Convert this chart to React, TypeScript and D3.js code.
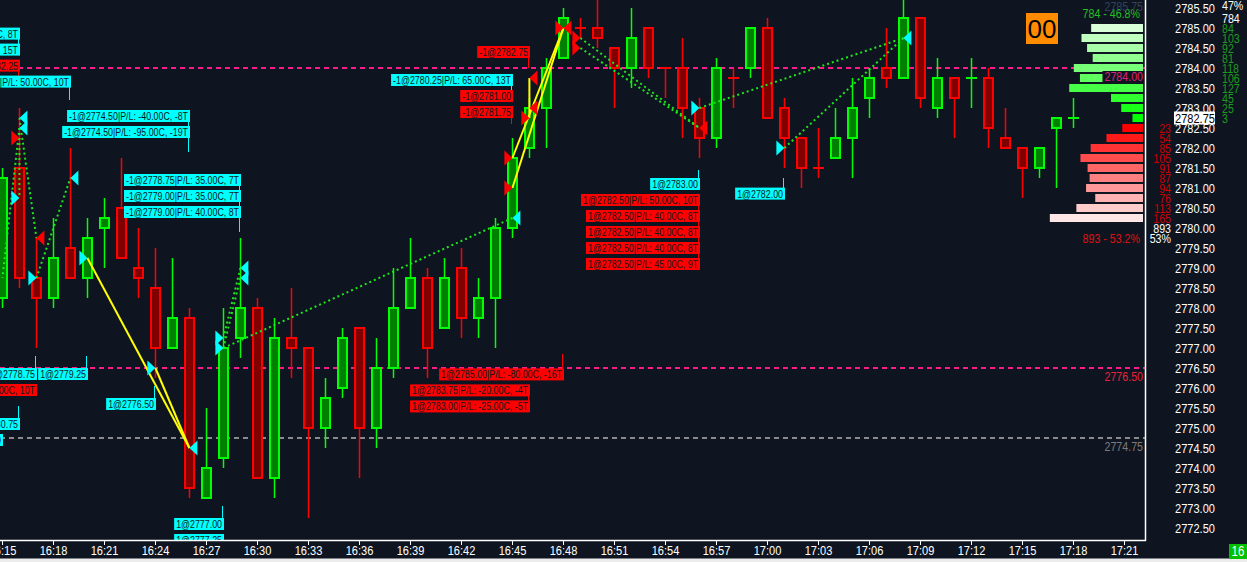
import { useEffect, useRef } from 'react';
import * as d3 from 'd3';

const WIDTH = 1247;
const HEIGHT = 562;
const PLOT_RIGHT = 1145;
const PLOT_BOTTOM = 540;
const FONT = "'Liberation Sans', Arial, sans-serif";
const SX = 0.82; // horizontal squeeze to mimic the narrow platform font
const BG = '#0f1520';

const parseTime = d3.timeParse('%H:%M');
const t = (s: string) => parseTime(s) as Date;

// one-minute bars 16:15 .. 17:18
const barTimes = d3.timeMinute.range(t('16:15'), t('17:19'));
const opens = [
  2778.25, 2781.5, 2778.75, 2778.25, 2779.5, 2778.75, 2780.0, 2780.5, 2779.0, 2778.5,
  2777.0, 2777.75, 2773.25, 2774.25, 2777.25, 2778.0, 2773.75, 2777.25, 2777.0, 2775.0,
  2776.0, 2777.5, 2775.0, 2776.5, 2778.0, 2778.75, 2777.5, 2779.0, 2777.75, 2778.25,
  2780.0, 2782.0, 2783.0, 2784.25, 2785.0, 2785.0, 2784.5, 2784.0, 2785.0, 2784.0,
  2784.0, 2783.0, 2782.25, 2783.75, 2784.0, 2785.0, 2783.0, 2782.25, 2781.5, 2781.75,
  2782.25, 2783.25, 2784.0, 2783.75, 2785.25, 2783.0, 2783.75, 2783.75, 2783.75, 2782.25,
  2782.0, 2781.5, 2782.5, 2782.75,
];
const highs = [
  2781.5, 2783.0, 2779.75, 2780.25, 2782.0, 2780.25, 2780.75, 2781.75, 2780.0, 2779.5,
  2779.25, 2778.0, 2775.5, 2778.0, 2779.75, 2778.25, 2777.75, 2778.5, 2777.0, 2776.25,
  2777.5, 2777.5, 2777.25, 2779.0, 2779.75, 2779.0, 2779.25, 2779.5, 2778.75, 2780.25,
  2782.25, 2783.25, 2784.25, 2785.5, 2785.25, 2785.75, 2784.5, 2785.5, 2785.0, 2784.0,
  2784.75, 2783.25, 2784.25, 2784.0, 2785.0, 2785.25, 2783.25, 2782.25, 2782.5, 2783.0,
  2783.75, 2784.0, 2785.0, 2785.75, 2785.25, 2784.25, 2783.75, 2784.25, 2784.0, 2783.0,
  2782.0, 2782.0, 2782.75, 2783.25,
];
const lows = [
  2778.0, 2778.5, 2777.0, 2778.0, 2778.75, 2778.25, 2779.0, 2779.25, 2778.25, 2776.25,
  2777.0, 2773.25, 2773.25, 2774.0, 2776.75, 2773.75, 2773.25, 2776.25, 2772.75, 2774.5,
  2775.75, 2773.75, 2774.5, 2776.25, 2778.0, 2776.25, 2777.5, 2777.25, 2777.25, 2777.0,
  2779.75, 2781.75, 2782.0, 2784.25, 2784.75, 2784.5, 2783.0, 2783.5, 2783.75, 2783.25,
  2782.25, 2781.75, 2782.0, 2783.0, 2783.75, 2782.75, 2781.5, 2781.0, 2781.25, 2781.75,
  2781.25, 2782.75, 2783.5, 2783.75, 2783.0, 2782.75, 2782.25, 2783.0, 2782.0, 2782.0,
  2780.75, 2781.25, 2781.0, 2782.5,
];
const closes = [
  2781.25, 2778.75, 2778.25, 2779.25, 2778.75, 2779.75, 2780.25, 2779.25, 2778.75, 2777.0,
  2777.75, 2773.5, 2774.0, 2777.0, 2778.0, 2773.75, 2777.25, 2777.0, 2775.0, 2775.75,
  2777.25, 2775.0, 2776.5, 2778.0, 2778.75, 2777.0, 2778.75, 2777.75, 2778.25, 2780.0,
  2781.75, 2783.0, 2784.0, 2785.25, 2785.0, 2784.75, 2784.0, 2784.75, 2784.0, 2784.0,
  2783.0, 2782.25, 2784.0, 2783.75, 2785.0, 2782.75, 2782.25, 2781.5, 2781.5, 2782.25,
  2783.0, 2783.75, 2783.75, 2785.25, 2783.25, 2783.75, 2783.25, 2783.75, 2782.5, 2782.0,
  2781.5, 2782.0, 2782.75, 2782.75,
];
const dojiUp = ['17:12', '17:18'];

const lastPrice = 2782.75;
const priceTicks = d3.range(2772.5, 2785.51, 0.5);

// volume profile (right side)
const profilePrices = d3.range(2785.0, 2780.24, -0.25);
const profileVolumes = [84, 103, 92, 81, 118, 106, 127, 45, 25, 3, 23, 54, 85, 105, 91, 87, 94, 76, 113, 165];

// fill markers: kind c = cyan, r = red; dir = where the tip points
const markers = [
  { time: '16:16', price: 2782.75, kind: 'c', dir: 'left' },
  { time: '16:16', price: 2782.5, kind: 'c', dir: 'left' },
  { time: '16:16', price: 2782.25, kind: 'r', dir: 'right' },
  { time: '16:16', price: 2780.75, kind: 'c', dir: 'right' },
  { time: '16:17', price: 2779.75, kind: 'r', dir: 'left' },
  { time: '16:17', price: 2778.75, kind: 'c', dir: 'right' },
  { time: '16:19', price: 2781.25, kind: 'c', dir: 'left' },
  { time: '16:20', price: 2779.25, kind: 'c', dir: 'right' },
  { time: '16:24', price: 2776.5, kind: 'c', dir: 'right' },
  { time: '16:26', price: 2774.5, kind: 'c', dir: 'left' },
  { time: '16:28', price: 2777.25, kind: 'c', dir: 'right' },
  { time: '16:28', price: 2777.0, kind: 'c', dir: 'right' },
  { time: '16:29', price: 2779.0, kind: 'c', dir: 'left' },
  { time: '16:29', price: 2778.75, kind: 'c', dir: 'left' },
  { time: '16:45', price: 2780.25, kind: 'c', dir: 'left' },
  { time: '16:45', price: 2781.75, kind: 'r', dir: 'right' },
  { time: '16:45', price: 2781.0, kind: 'r', dir: 'right' },
  { time: '16:46', price: 2782.75, kind: 'r', dir: 'right' },
  { time: '16:46', price: 2783.75, kind: 'r', dir: 'left' },
  { time: '16:46', price: 2783.0, kind: 'r', dir: 'left' },
  { time: '16:48', price: 2785.0, kind: 'r', dir: 'right' },
  { time: '16:48', price: 2785.0, kind: 'r', dir: 'left' },
  { time: '16:49', price: 2784.75, kind: 'r', dir: 'right' },
  { time: '16:49', price: 2784.5, kind: 'r', dir: 'right' },
  { time: '16:56', price: 2783.0, kind: 'c', dir: 'right' },
  { time: '16:56', price: 2782.5, kind: 'r', dir: 'left' },
  { time: '17:01', price: 2782.0, kind: 'c', dir: 'right' },
  { time: '17:08', price: 2784.75, kind: 'c', dir: 'left' },
];

// trade links: [time0, price0, time1, price1]
const solidLinks: [string, number, string, number][] = [
  ['16:20', 2779.25, '16:26', 2774.5],
  ['16:24', 2776.5, '16:26', 2774.5],
  ['16:45', 2781.75, '16:48', 2785.0],
  ['16:45', 2781.0, '16:48', 2785.0],
  ['16:46', 2783.75, '16:46', 2782.75],
];
const dottedLinks: [string, number, string, number][] = [
  ['16:16', 2782.75, '16:17', 2779.75],
  ['16:16', 2782.5, '16:15', 2778.75],
  ['16:16', 2782.5, '16:16', 2780.75],
  ['16:17', 2778.75, '16:19', 2781.25],
  ['16:28', 2777.25, '16:29', 2779.0],
  ['16:28', 2777.0, '16:29', 2778.75],
  ['16:28', 2777.0, '16:45', 2780.25],
  ['16:49', 2784.75, '16:56', 2782.5],
  ['16:49', 2784.5, '16:56', 2782.5],
  ['16:56', 2783.0, '17:08', 2784.75],
  ['17:01', 2782.0, '17:08', 2784.75],
];

// order / fill labels: right edge at the bar time, centred on price
const tags = [
  { text: '-1@2781.75|P/L: 40.00C, 8T', kind: 'c', time: '16:16', price: 2784.86 },
  { text: '-1@2781.50|P/L: 70.00C, 15T', kind: 'c', time: '16:16', price: 2784.46 },
  { text: '-1@2782.25', kind: 'r', time: '16:16', price: 2784.06 },
  { text: '-1@2782.25|P/L: 50.00C, 10T', kind: 'c', time: '16:19', price: 2783.66 },
  { text: '-1@2774.50|P/L: -40.00C, -8T', kind: 'c', time: '16:26', price: 2782.8 },
  { text: '-1@2774.50|P/L: -95.00C, -19T', kind: 'c', time: '16:26', price: 2782.4 },
  { text: '-1@2778.75|P/L: 35.00C, 7T', kind: 'c', time: '16:29', price: 2781.2 },
  { text: '-1@2779.00|P/L: 35.00C, 7T', kind: 'c', time: '16:29', price: 2780.8 },
  { text: '-1@2779.00|P/L: 40.00C, 8T', kind: 'c', time: '16:29', price: 2780.4 },
  { text: '1@2778.75', kind: 'c', time: '16:17', price: 2776.35 },
  { text: '1@2779.25', kind: 'c', time: '16:20', price: 2776.35 },
  { text: '1@2780.75|P/L: 50.00C, 10T', kind: 'r', time: '16:17', price: 2775.95 },
  { text: '1@2776.50', kind: 'c', time: '16:24', price: 2775.6 },
  { text: '1@2780.75', kind: 'c', time: '16:16', price: 2775.1 },
  { text: '1@2781.00', kind: 'c', time: '16:15', price: 2774.7 },
  { text: '1@2777.00', kind: 'c', time: '16:28', price: 2772.6 },
  { text: '1@2777.25', kind: 'c', time: '16:28', price: 2772.2 },
  { text: '-1@2782.75', kind: 'r', time: '16:46', price: 2784.4 },
  { text: '-1@2780.25|P/L: 65.00C, 13T', kind: 'c', time: '16:45', price: 2783.7 },
  { text: '-1@2781.00', kind: 'r', time: '16:45', price: 2783.3 },
  { text: '-1@2781.75', kind: 'r', time: '16:45', price: 2782.9 },
  { text: '1@2783.00', kind: 'c', time: '16:56', price: 2781.1 },
  { text: '1@2782.50|P/L: 50.00C, 10T', kind: 'r', time: '16:56', price: 2780.7 },
  { text: '1@2782.50|P/L: 40.00C, 8T', kind: 'r', time: '16:56', price: 2780.3 },
  { text: '1@2782.50|P/L: 40.00C, 8T', kind: 'r', time: '16:56', price: 2779.9 },
  { text: '1@2782.50|P/L: 40.00C, 8T', kind: 'r', time: '16:56', price: 2779.5 },
  { text: '1@2782.50|P/L: 45.00C, 9T', kind: 'r', time: '16:56', price: 2779.1 },
  { text: '1@2785.00|P/L: -80.00C, -16T', kind: 'r', time: '16:48', price: 2776.34 },
  { text: '1@2783.75|P/L: -20.00C, -4T', kind: 'r', time: '16:46', price: 2775.94 },
  { text: '1@2783.00|P/L: -25.00C, -5T', kind: 'r', time: '16:46', price: 2775.54 },
  { text: '1@2782.00', kind: 'c', time: '17:01', price: 2780.86 },
];

// label leader lines: [kind, time, price0, price1]
const leaders: [string, string, number, number][] = [
  ['c', '16:16', 2784.86, 2784.46],
  ['r', '16:16', 2784.06, 2783.6],
  ['c', '16:19', 2783.66, 2783.2],
  ['c', '16:26', 2782.8, 2781.9],
  ['c', '16:29', 2781.2, 2779.9],
  ['c', '16:17', 2776.35, 2776.8],
  ['c', '16:20', 2776.35, 2776.8],
  ['c', '16:24', 2775.6, 2776.05],
  ['c', '16:16', 2775.1, 2775.55],
  ['c', '16:28', 2772.6, 2773.05],
  ['r', '16:46', 2784.4, 2784.0],
  ['c', '16:45', 2783.7, 2783.4],
  ['r', '16:45', 2782.9, 2782.6],
  ['c', '16:56', 2781.1, 2781.45],
  ['r', '16:56', 2780.7, 2779.1],
  ['r', '16:48', 2776.34, 2776.85],
  ['r', '16:46', 2775.94, 2775.54],
  ['c', '17:01', 2780.86, 2781.25],
];

// horizontal price lines
const levelLines = [
  { price: 2784.0, color: '#ff1a8c', text: '#e0207a' },
  { price: 2776.5, color: '#ff1a8c', text: '#e8203c' },
  { price: 2774.75, color: '#8a8a8a', text: '#7c7c7c' },
  { price: 2785.75, color: 'none', text: '#33425e' },
];

const KIND_COLOR: Record<string, string> = { c: '#00ffff', r: '#ff0000' };

type Sel = d3.Selection<any, unknown, null, undefined>;

// squeezed text; returns [selection, rendered width]
function addText(parent: Sel, x: number, y: number, str: string | number, size: number, fill: string, anchor = 'start'): [Sel, number] {
  const node = parent.append('text')
    .attr('transform', `translate(${x},${y}) scale(${SX},1)`)
    .attr('text-anchor', anchor)
    .attr('font-family', FONT).attr('font-size', size).attr('fill', fill)
    .text(String(str));
  const w = (node.node() as SVGTextElement).getComputedTextLength() * SX;
  return [node, w];
}

export default function App() {
  const ref = useRef<SVGSVGElement>(null);

  useEffect(() => {
    const svg = d3.select(ref.current) as unknown as Sel;
    svg.selectAll('*').remove();

    const x = d3.scaleTime().domain([t('16:15'), t('17:21')]).range([2.4, 1124.4]);
    const y = d3.scaleLinear().domain([2772.5, 2785.5]).range([528, 8]);
    const xs = (s: string) => x(t(s));

    svg.append('rect').attr('width', WIDTH).attr('height', HEIGHT).attr('fill', BG);
    svg.append('defs').append('clipPath').attr('id', 'plot')
      .append('rect').attr('width', PLOT_RIGHT).attr('height', PLOT_BOTTOM);

    const plot = svg.append('g').attr('clip-path', 'url(#plot)');

    // price lines
    levelLines.forEach((l) => {
      if (l.color === 'none') return;
      plot.append('line')
        .attr('x1', 0).attr('x2', PLOT_RIGHT)
        .attr('y1', y(l.price)).attr('y2', y(l.price))
        .attr('stroke', l.color).attr('stroke-width', 2)
        .attr('stroke-dasharray', '5,4');
    });

    // candles
    const bw = 9;
    barTimes.forEach((d, i) => {
      const o = opens[i], c = closes[i], h = highs[i], l = lows[i];
      const label = d3.timeFormat('%H:%M')(d);
      const up = c > o || (c === o && dojiUp.includes(label));
      const line = up ? '#00ff00' : '#ff0000';
      const fill = up ? '#008000' : '#800000';
      const cx = Math.round(x(d)) + 0.5;
      plot.append('line').attr('x1', cx).attr('x2', cx)
        .attr('y1', y(h)).attr('y2', y(l)).attr('stroke', line).attr('stroke-width', 1.5);
      if (c === o) {
        plot.append('line').attr('x1', cx - 5.5).attr('x2', cx + 5.5)
          .attr('y1', y(c)).attr('y2', y(c)).attr('stroke', line).attr('stroke-width', 2);
      } else {
        plot.append('rect')
          .attr('x', cx - bw / 2).attr('width', bw)
          .attr('y', y(Math.max(o, c))).attr('height', Math.abs(y(o) - y(c)))
          .attr('fill', fill).attr('stroke', line).attr('stroke-width', 2);
      }
    });

    // trade links
    solidLinks.forEach(([t0, p0, t1, p1]) => {
      plot.append('line').attr('x1', xs(t0)).attr('y1', y(p0)).attr('x2', xs(t1)).attr('y2', y(p1))
        .attr('stroke', '#ffff00').attr('stroke-width', 2);
    });
    dottedLinks.forEach(([t0, p0, t1, p1]) => {
      plot.append('line').attr('x1', xs(t0)).attr('y1', y(p0)).attr('x2', xs(t1)).attr('y2', y(p1))
        .attr('stroke', '#1ee61e').attr('stroke-width', 2).attr('stroke-dasharray', '2,3');
    });

    // markers
    markers.forEach((m) => {
      const mx = xs(m.time), my = y(m.price);
      const s = m.dir === 'left' ? 1 : -1;
      const pts = [[mx, my], [mx + 8 * s, my - 7.5], [mx + 8 * s, my + 7.5]];
      plot.append('polygon').attr('points', pts.map((p) => p.join(',')).join(' '))
        .attr('fill', KIND_COLOR[m.kind]);
    });

    // leader lines
    leaders.forEach(([k, tm, p0, p1]) => {
      const lx = Math.round(xs(tm)) - 0.5;
      plot.append('line').attr('x1', lx).attr('x2', lx).attr('y1', y(p0)).attr('y2', y(p1))
        .attr('stroke', KIND_COLOR[k]).attr('stroke-width', 1);
    });

    // labels
    tags.forEach((tg) => {
      const right = xs(tg.time) + 0.6;
      const cy = y(tg.price);
      const g = plot.append('g');
      const rect = g.append('rect');
      const [, w] = addText(g, right - 2, cy + 4, tg.text, 10.8, '#0d1a22', 'end');
      rect.attr('x', right - w - 4).attr('y', cy - 6).attr('width', w + 4).attr('height', 12)
        .attr('fill', KIND_COLOR[tg.kind]);
    });

    // volume profile
    const vx = (v: number) => 9 + v * 0.51;
    const greenShade = d3.interpolateRgb('#00ff00', '#d8ffd8');
    const redShade = d3.interpolateRgb('#ff0000', '#ffe6e6');
    const prof = svg.append('g');
    profilePrices.forEach((p, i) => {
      const v = profileVolumes[i];
      const above = p >= lastPrice;
      const dist = Math.abs(p - lastPrice) / 0.25 - (above ? 0 : 1);
      const col = above ? greenShade(dist / 9) : redShade(dist / 9);
      prof.append('rect').attr('x', 1143 - vx(v)).attr('width', vx(v))
        .attr('y', y(p) - 4).attr('height', 8).attr('fill', col);
      if (above) addText(prof, 1222, y(p) + 4.5, v, 13, '#1c9c1c');
      else addText(prof, 1171, y(p) + 4.5, v, 13, '#c80000', 'end');
    });
    const sumAbove = d3.sum(profileVolumes.filter((_, i) => profilePrices[i] >= lastPrice));
    const sumBelow = d3.sum(profileVolumes.filter((_, i) => profilePrices[i] < lastPrice));
    const total = sumAbove + sumBelow;

    // level line labels
    levelLines.forEach((l) => {
      const g = svg.append('g');
      const bg = g.append('rect');
      const [, w] = addText(g, 1143, y(l.price) + 12.5, l.price.toFixed(2), 13, l.text, 'end');
      if (l.price === 2784.0) {
        bg.attr('x', 1143 - w - 2).attr('y', y(l.price) + 3).attr('width', w + 2).attr('height', 12).attr('fill', BG);
      }
    });

    addText(prof, 1140, y(2785.5) + 9.5, `${sumAbove} - ${((sumAbove / total) * 100).toFixed(1)}%`, 13, '#22c022', 'end');
    addText(prof, 1140, y(2780.0) + 15, `${sumBelow} - ${((sumBelow / total) * 100).toFixed(1)}%`, 13, '#e01010', 'end');
    addText(prof, 1171, y(2780.0) + 4.5, sumBelow, 13, '#ffffff', 'end');
    addText(prof, 1171, y(2780.0) + 14.5, `${Math.round((sumBelow / total) * 100)}%`, 13, '#ffffff', 'end');
    addText(prof, 1222, y(2785.25) + 4.5, sumAbove, 13, '#ffffff');
    addText(prof, 1222, y(2785.5) + 1.5, `${Math.round((sumAbove / total) * 100)}%`, 13, '#ffffff');

    // orange counter box
    svg.append('rect').attr('x', 1026).attr('y', 13).attr('width', 32).attr('height', 31).attr('fill', '#ff8c00');
    svg.append('text').attr('x', 1042).attr('y', 38).attr('text-anchor', 'middle')
      .attr('font-family', FONT).attr('font-size', 26).attr('fill', '#000').text('00');

    // axes frame
    svg.append('line').attr('x1', PLOT_RIGHT + 0.5).attr('x2', PLOT_RIGHT + 0.5).attr('y1', 0).attr('y2', PLOT_BOTTOM + 1)
      .attr('stroke', '#ffffff').attr('stroke-width', 1.5);
    svg.append('line').attr('x1', 0).attr('x2', PLOT_RIGHT + 1).attr('y1', PLOT_BOTTOM + 0.5).attr('y2', PLOT_BOTTOM + 0.5)
      .attr('stroke', '#ffffff').attr('stroke-width', 1.5);

    // price axis
    priceTicks.forEach((p) => addText(svg, 1175, y(p) + 5, p.toFixed(2), 13.5, '#ffffff'));
    svg.append('rect').attr('x', 1174).attr('y', y(lastPrice) - 6.5).attr('width', 41).attr('height', 13).attr('fill', '#ffffff');
    addText(svg, 1175, y(lastPrice) + 5, lastPrice.toFixed(2), 13.5, '#000000');

    // time axis
    const ticks = d3.timeMinute.every(3)!.range(t('16:15'), t('17:22'));
    ticks.forEach((d) => {
      const tx = Math.round(x(d)) + 0.5;
      svg.append('line').attr('x1', tx).attr('x2', tx).attr('y1', PLOT_BOTTOM).attr('y2', PLOT_BOTTOM + 5)
        .attr('stroke', '#ffffff').attr('stroke-width', 1);
      addText(svg, tx, 555, d3.timeFormat('%H:%M')(d), 13.5, '#ffffff', 'middle');
    });

    // bottom strip and bar counter
    svg.append('rect').attr('x', 0).attr('y', 558.5).attr('width', WIDTH).attr('height', 4).attr('fill', '#ececec');
    svg.append('rect').attr('x', 1229).attr('y', 544).attr('width', 18).attr('height', 15).attr('fill', '#00c000');
    addText(svg, 1238, 556, '16', 14, '#ffffff', 'middle');
  }, []);

  return (
    <div style={{ position: 'fixed', left: 0, top: 0, width: WIDTH, height: HEIGHT }}>
      <svg ref={ref} width={WIDTH} height={HEIGHT} style={{ display: 'block' }} />
    </div>
  );
}
